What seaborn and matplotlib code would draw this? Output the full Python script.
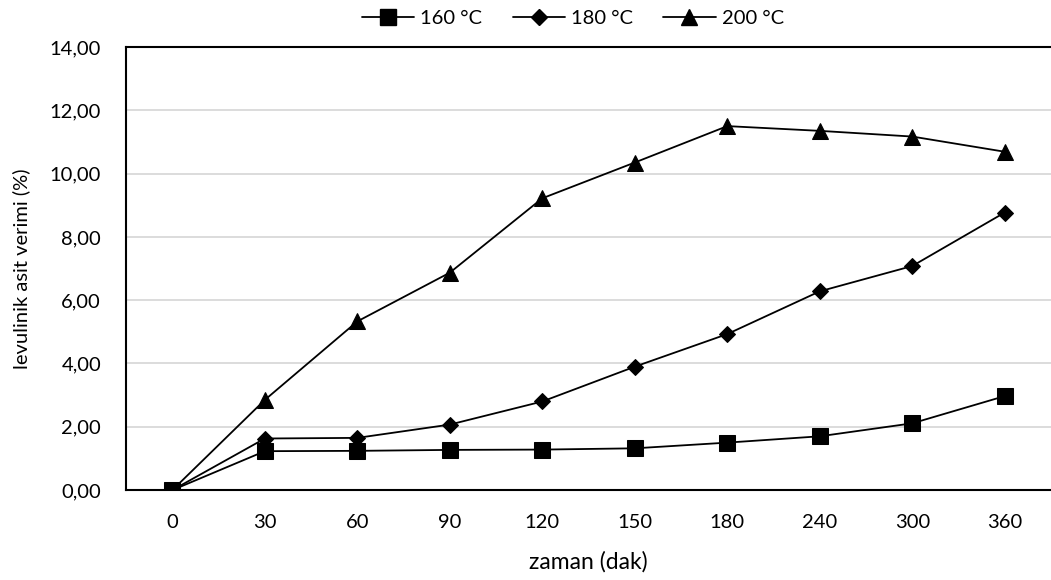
import matplotlib
matplotlib.use("Agg")
import matplotlib.pyplot as plt
import seaborn as sns
import pandas as pd
from matplotlib.ticker import FuncFormatter, MultipleLocator
from matplotlib.lines import Line2D

times = ["0", "30", "60", "90", "120", "150", "180", "240", "300", "360"]
y160 = [0.00, 1.23, 1.24, 1.27, 1.28, 1.32, 1.50, 1.70, 2.11, 2.97]
y180 = [0.00, 1.63, 1.65, 2.07, 2.80, 3.90, 4.93, 6.28, 7.08, 8.77]
y200 = [0.00, 2.85, 5.33, 6.87, 9.22, 10.35, 11.50, 11.35, 11.17, 10.69]
series_names = ["160 °C", "180 °C", "200 °C"]

df = pd.concat([
    pd.DataFrame({"zaman": times, "verim": vals, "seri": name})
    for name, vals in zip(series_names, [y160, y180, y200])
])

sns.set_theme(style="white")
plt.rcParams["font.family"] = ["Lato", "DejaVu Sans"]
plt.rcParams["text.color"] = "black"
plt.rcParams["axes.labelcolor"] = "black"

fig = plt.figure(figsize=(10.51, 5.80), dpi=100)
ax = fig.add_axes([0.12, 0.155, 0.88, 0.764])

markers = {"160 °C": "s", "180 °C": "D", "200 °C": "^"}
sizes = {"160 °C": 11, "180 °C": 8, "200 °C": 12}
sns.lineplot(data=df, x="zaman", y="verim", hue="seri", style="seri",
             palette=["black"] * 3, markers=markers, dashes=False, sort=False,
             linewidth=1.3, ax=ax, legend=False)
for line, name in zip(ax.lines, series_names):
    line.set_markersize(sizes[name])
    line.set_markerfacecolor("black")
    line.set_markeredgecolor("black")

ax.set_xlim(-0.5, len(times) - 0.5)
ax.set_ylim(0, 14)
ax.yaxis.set_major_locator(MultipleLocator(2))
ax.yaxis.set_major_formatter(FuncFormatter(lambda v, p: f"{v:.2f}".replace(".", ",")))
ax.grid(axis="y", color="#d9d9d9", linewidth=1.3)
ax.grid(axis="x", visible=False)
ax.set_axisbelow(True)
for s in ["left", "top", "bottom"]:
    ax.spines[s].set_visible(True)
    ax.spines[s].set_color("black")
    ax.spines[s].set_linewidth(1.5)
ax.spines["right"].set_visible(False)
ax.tick_params(axis="both", length=0, labelsize=14.5, colors="black")
ax.tick_params(axis="y", pad=18)
ax.tick_params(axis="x", pad=17)
ax.set_xlabel("zaman (dak)", fontsize=16.5, labelpad=15)
ax.set_ylabel("levulinik asit verimi (%)", fontsize=14.5, labelpad=14)

handles = [Line2D([], [], color="black", linewidth=1.3, marker=markers[n],
                  markersize=sizes[n], markerfacecolor="black") for n in series_names]
fig.legend(handles, series_names, loc="center", bbox_to_anchor=(0.545, 0.968),
           ncol=3, frameon=False, fontsize=14.5, handlelength=2.6,
           columnspacing=1.5, handletextpad=0.3)

fig.savefig("out.png", dpi=100)
